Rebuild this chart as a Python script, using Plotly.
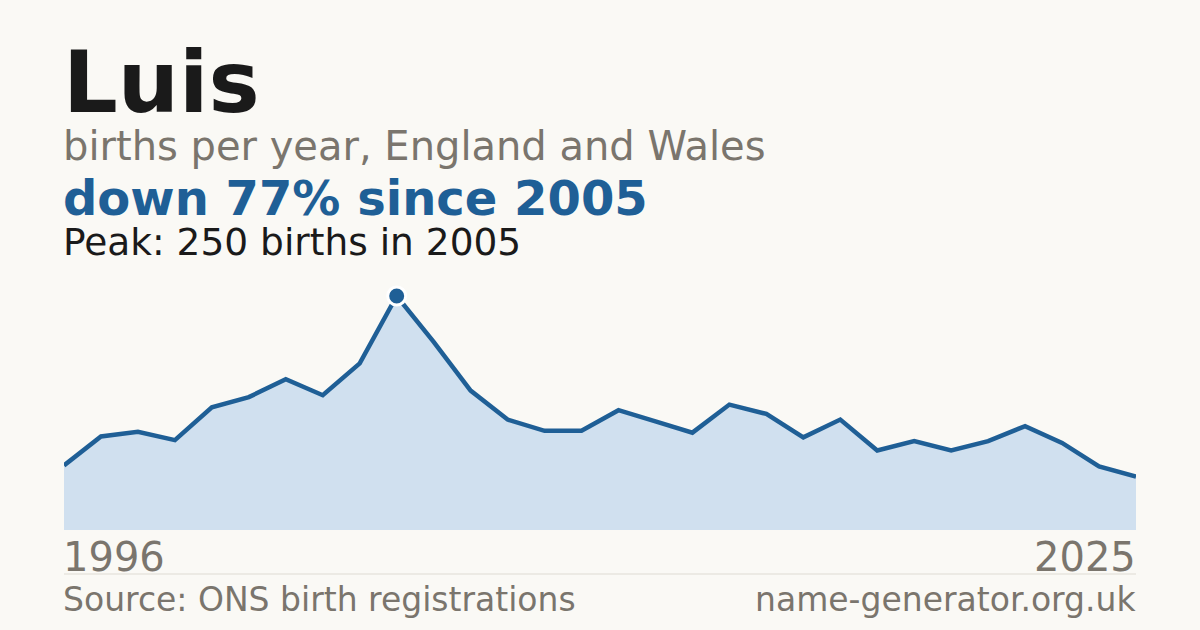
import plotly.graph_objects as go

years = list(range(1996, 2026))
births = [69, 100, 105, 96, 131, 142, 161, 144, 178, 250,
          201, 149, 118, 106, 106, 128, 116, 104, 134, 124,
          99, 118, 85, 95, 85, 95, 111, 93, 68, 57]

name = "Luis"
peak = max(births)
peak_year = years[births.index(peak)]
change = round((births[-1] - peak) / peak * 100)

bg = "#faf9f5"
blue = "#1f5f96"
grey = "#7a756d"
font = "DejaVu Sans"

# plot area in pixels: x 64..1136, y 280..530
top, bottom = 280, 530
h = bottom - top


def py(pix):
    # pixel row -> paper coordinate
    return (bottom - pix) / h


fig = go.Figure()
fig.add_trace(go.Scatter(
    x=years, y=births, mode="lines", fill="tozeroy",
    fillcolor="#d0e0ef", line=dict(color=blue, width=4.5),
    hoverinfo="skip"))
fig.add_trace(go.Scatter(
    x=[peak_year], y=[peak], mode="markers",
    marker=dict(color=blue, size=18, line=dict(color="white", width=3)),
    hoverinfo="skip"))

texts = [
    (name, 86, "#1a1a1a", True, 112),
    ("births per year, England and Wales", 40, grey, False, 160),
    (f"down {abs(change)}% since {peak_year}", 48, blue, True, 215),
    (f"Peak: {peak} births in {peak_year}", 37.5, "#1a1a1a", False, 255),
]
ann = []
for t, s, c, b, base in texts:
    ann.append(dict(text=f"<b>{t}</b>" if b else t, x=0, xref="paper",
                    xanchor="left", xshift=-3, y=py(base - 0.346 * s),
                    yref="paper", yanchor="middle", showarrow=False,
                    font=dict(family=font, size=s, color=c)))

ann.append(dict(text=str(years[0]), x=years[0], xref="x", xanchor="left",
                xshift=-3, y=py(571 - 0.346 * 40), yref="paper",
                yanchor="middle", showarrow=False,
                font=dict(family=font, size=40, color=grey)))
ann.append(dict(text=str(years[-1]), x=years[-1], xref="x", xanchor="right",
                xshift=2, y=py(571 - 0.346 * 40), yref="paper",
                yanchor="middle", showarrow=False,
                font=dict(family=font, size=40, color=grey)))
ann.append(dict(text="Source: ONS birth registrations", x=0, xref="paper",
                xanchor="left", xshift=-3, y=py(611 - 0.346 * 33),
                yref="paper", yanchor="middle", showarrow=False,
                font=dict(family=font, size=33, color=grey)))
ann.append(dict(text="name-generator.org.uk", x=1, xref="paper",
                xanchor="right", xshift=2, y=py(611 - 0.346 * 33),
                yref="paper", yanchor="middle", showarrow=False,
                font=dict(family=font, size=33, color=grey)))

fig.update_layout(
    width=1200, height=630,
    margin=dict(l=64, r=64, t=top, b=630 - bottom),
    paper_bgcolor=bg, plot_bgcolor=bg,
    showlegend=False,
    annotations=ann,
    shapes=[dict(type="line", xref="paper", yref="paper", x0=0, x1=1,
                 y0=py(574), y1=py(574),
                 line=dict(color="#dedbd3", width=1))],
    xaxis=dict(range=[years[0], years[-1]], visible=False),
    yaxis=dict(range=[0, peak * h / 234], visible=False),
)

# drop the page's default body margin so the figure sits at 0,0
fig.write_html("out.html", config={"displayModeBar": False},
               post_script="document.body.style.margin='0';"
                           "document.body.style.background='" + bg + "';")
